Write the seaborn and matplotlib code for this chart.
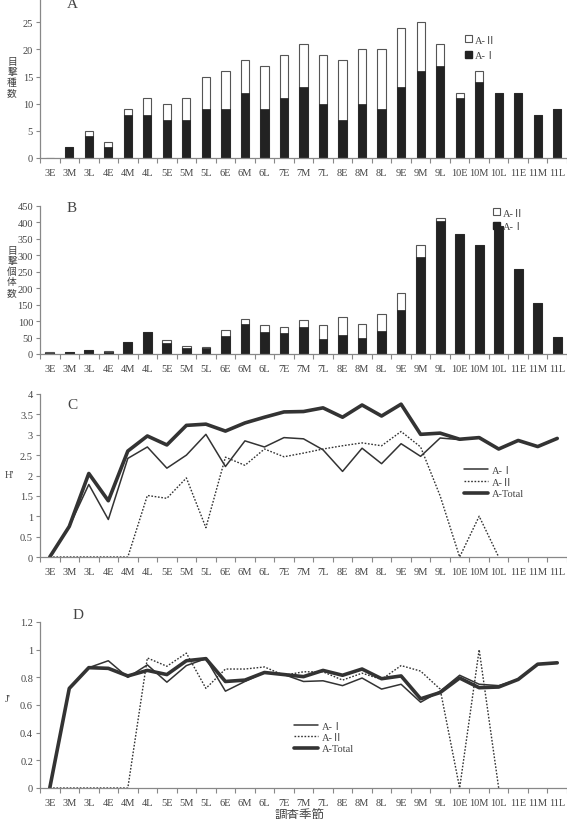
import numpy as np
import seaborn as sns
import matplotlib.pyplot as plt
from matplotlib.patches import Patch
from matplotlib.ticker import FuncFormatter, FixedLocator

seasons = ['3E', '3M', '3L', '4E', '4M', '4L', '5E', '5M', '5L', '6E', '6M', '6L', '7E', '7M',
           '7L', '8E', '8M', '8L', '9E', '9M', '9L', '10E', '10M', '10L', '11E', '11M', '11L']

# A: number of species seen
a_sp_i = [0, 2, 4, 2, 8, 8, 7, 7, 9, 9, 12, 9, 11, 13, 10, 7, 10, 9, 13, 16, 17, 11, 14, 12, 12, 8, 9]
a_sp_tot = [0, 2, 5, 3, 9, 11, 10, 11, 15, 16, 18, 17, 19, 21, 19, 18, 20, 20, 24, 25, 21, 12, 16, 12, 12, 8, 9]

# B: number of individuals seen
b_ind_i = [4, 5, 11, 7, 37, 66, 33, 17, 18, 56, 92, 68, 65, 82, 47, 57, 50, 70, 133, 295, 405,
           365, 332, 389, 259, 155, 52]
b_ind_tot = [5, 6, 12, 8, 37, 68, 42, 24, 22, 72, 105, 87, 83, 103, 89, 114, 91, 122, 186, 330, 413,
             365, 332, 389, 259, 155, 52]

# C: H'
h_i = [0, 0.75, 1.78, 0.92, 2.42, 2.70, 2.18, 2.50, 3.01, 2.22, 2.85, 2.70, 2.93, 2.90, 2.63,
       2.10, 2.67, 2.29, 2.78, 2.47, 2.92, 2.88, 2.93, 2.65, 2.86, 2.71, 2.91]
h_ii = [0, 0, 0, 0, 0, 1.51, 1.44, 1.94, 0.72, 2.45, 2.25, 2.65, 2.46, 2.55, 2.65, 2.73, 2.80,
        2.73, 3.08, 2.70, 1.50, 0, 1.00, 0]
h_tot = [0, 0.75, 2.05, 1.38, 2.60, 2.97, 2.75, 3.23, 3.26, 3.09, 3.29, 3.43, 3.56, 3.57, 3.66,
         3.43, 3.73, 3.46, 3.75, 3.01, 3.04, 2.89, 2.93, 2.65, 2.86, 2.71, 2.91]

# D: J'
j_i = [0, 0.72, 0.87, 0.92, 0.80, 0.89, 0.765, 0.885, 0.935, 0.70, 0.77, 0.835, 0.82, 0.77, 0.775,
       0.74, 0.795, 0.715, 0.75, 0.62, 0.70, 0.815, 0.75, 0.74, 0.785, 0.895, 0.905]
j_ii = [0, 0, 0, 0, 0, 0.94, 0.88, 0.975, 0.72, 0.86, 0.86, 0.875, 0.815, 0.84, 0.84, 0.78, 0.83,
        0.785, 0.885, 0.845, 0.715, 0, 1.00, 0]
j_tot = [0, 0.72, 0.87, 0.865, 0.81, 0.85, 0.82, 0.92, 0.935, 0.77, 0.78, 0.835, 0.82, 0.805, 0.85,
         0.815, 0.86, 0.79, 0.81, 0.645, 0.69, 0.795, 0.725, 0.73, 0.785, 0.895, 0.905]

sns.set_style('ticks')
plt.rcParams['font.family'] = ['Liberation Serif', 'Noto Sans CJK JP', 'DejaVu Sans']
TXT = '#444444'
SP = '#888888'
LN = '#333333'

fig = plt.figure(figsize=(5.67, 8.2), dpi=100)
W, H = 567.0, 820.0


def make_ax(top_px, bottom_px):
    return fig.add_axes([40 / W, 1 - bottom_px / H, 527 / W, (bottom_px - top_px) / H])


def style(ax, ymax, step):
    ax.set_xlim(-0.5, len(seasons) - 0.5)
    ax.set_ylim(0, ymax)
    ax.set_yticks(np.arange(0, ymax + step / 2, step))
    ax.yaxis.set_major_formatter(FuncFormatter(lambda v, p: f'{v:g}'))
    ax.set_xticks(range(len(seasons)))
    ax.set_xticklabels(seasons)
    ax.xaxis.set_minor_locator(FixedLocator(np.arange(-0.5, len(seasons), 1)))
    ax.tick_params(axis='x', which='major', length=0, pad=7, labelsize=7.5, colors=TXT)
    ax.tick_params(axis='x', which='minor', length=3.5, width=0.8, color=SP, direction='out')
    ax.tick_params(axis='y', length=3, width=0.8, color=SP, labelsize=7.5, labelcolor=TXT, pad=2)
    ax.set_xlabel('')
    ax.set_ylabel('')
    sns.despine(ax=ax)
    for s in ['left', 'bottom']:
        ax.spines[s].set_color(SP)
        ax.spines[s].set_linewidth(0.9)


def vtext(chars, x_px, top_px, step_px):
    # stacked vertical Japanese label, one glyph per line
    for k, ch in enumerate(chars):
        fig.text(x_px / W, 1 - (top_px + k * step_px) / H, ch, fontsize=7, color=TXT,
                 ha='center', va='center', family=['Noto Sans CJK JP'])


bar_leg = [Patch(facecolor='white', edgecolor='#555555', linewidth=0.8, label='A-Ⅱ'),
           Patch(facecolor='#222222', edgecolor='#222222', label='A-Ⅰ')]

# ---- A ----
axA = make_ax(-4, 159)
sns.barplot(x=seasons, y=a_sp_tot, order=seasons, color='white', edgecolor='#555555',
            linewidth=0.8, width=0.42, saturation=1, ax=axA)
sns.barplot(x=seasons, y=a_sp_i, order=seasons, color='#222222', edgecolor='#222222',
            linewidth=0.5, width=0.42, saturation=1, ax=axA)
style(axA, 30, 5)
axA.legend(handles=bar_leg, loc='upper left', bbox_to_anchor=(456 / W, 1 - 27 / H),
           bbox_transform=fig.transFigure, frameon=False, fontsize=7.5, handlelength=0.65,
           handleheight=0.65, handletextpad=0.3, labelspacing=0.6, labelcolor=TXT)

# ---- B ----
axB = make_ax(207, 355)
sns.barplot(x=seasons, y=b_ind_tot, order=seasons, color='white', edgecolor='#555555',
            linewidth=0.8, width=0.45, saturation=1, ax=axB)
sns.barplot(x=seasons, y=b_ind_i, order=seasons, color='#222222', edgecolor='#222222',
            linewidth=0.5, width=0.45, saturation=1, ax=axB)
style(axB, 450, 50)
axB.legend(handles=bar_leg, loc='upper left', bbox_to_anchor=(484 / W, 1 - 200 / H),
           bbox_transform=fig.transFigure, frameon=False, fontsize=7.5, handlelength=0.65,
           handleheight=0.65, handletextpad=0.3, labelspacing=0.45, labelcolor=TXT)

# ---- C ----
axC = make_ax(395, 558)
idx = np.arange(len(seasons))
sns.lineplot(x=idx, y=h_i, color=LN, lw=1.1, label='A-Ⅰ', ax=axC)
sns.lineplot(x=idx[:len(h_ii)], y=h_ii, color=LN, lw=1.0, linestyle=(0, (1.2, 1.2)), label='A-Ⅱ', ax=axC)
sns.lineplot(x=idx, y=h_tot, color=LN, lw=2.6, label='A-Total', ax=axC)
style(axC, 4, 0.5)
axC.legend(loc='upper left', bbox_to_anchor=(455 / W, 1 - 457 / H),
           bbox_transform=fig.transFigure, frameon=False, fontsize=7.5, handlelength=2.3,
           handletextpad=0.3, labelspacing=0.25, labelcolor=TXT)

# ---- D ----
axD = make_ax(623, 789)
sns.lineplot(x=idx, y=j_i, color=LN, lw=1.1, label='A-Ⅰ', ax=axD)
sns.lineplot(x=idx[:len(j_ii)], y=j_ii, color=LN, lw=1.0, linestyle=(0, (1.2, 1.2)), label='A-Ⅱ', ax=axD)
sns.lineplot(x=idx, y=j_tot, color=LN, lw=2.6, label='A-Total', ax=axD)
style(axD, 1.2, 0.2)
axD.legend(loc='upper left', bbox_to_anchor=(285 / W, 1 - 713 / H),
           bbox_transform=fig.transFigure, frameon=False, fontsize=7.5, handlelength=2.3,
           handletextpad=0.3, labelspacing=0.2, labelcolor=TXT)

# panel letters and axis titles
for lab, xp, yp in [('A', 72, 5), ('B', 72, 208), ('C', 72, 406), ('D', 78, 616)]:
    fig.text(xp / W, 1 - yp / H, lab, fontsize=11, color=TXT, ha='center', va='center')

vtext('目撃種数', 12, 62, 10.4)
vtext('目撃個体数', 12, 251, 10.5)
fig.text(9 / W, 1 - 476 / H, "H'", fontsize=7.5, color=TXT, ha='center', va='center')
fig.text(8 / W, 1 - 700 / H, "J'", fontsize=7.5, color=TXT, ha='center', va='center')
fig.text(300 / W, 1 - 811 / H, '調査季節', fontsize=9, color=TXT, ha='center', va='top')

plt.savefig('out.png', dpi=100)
